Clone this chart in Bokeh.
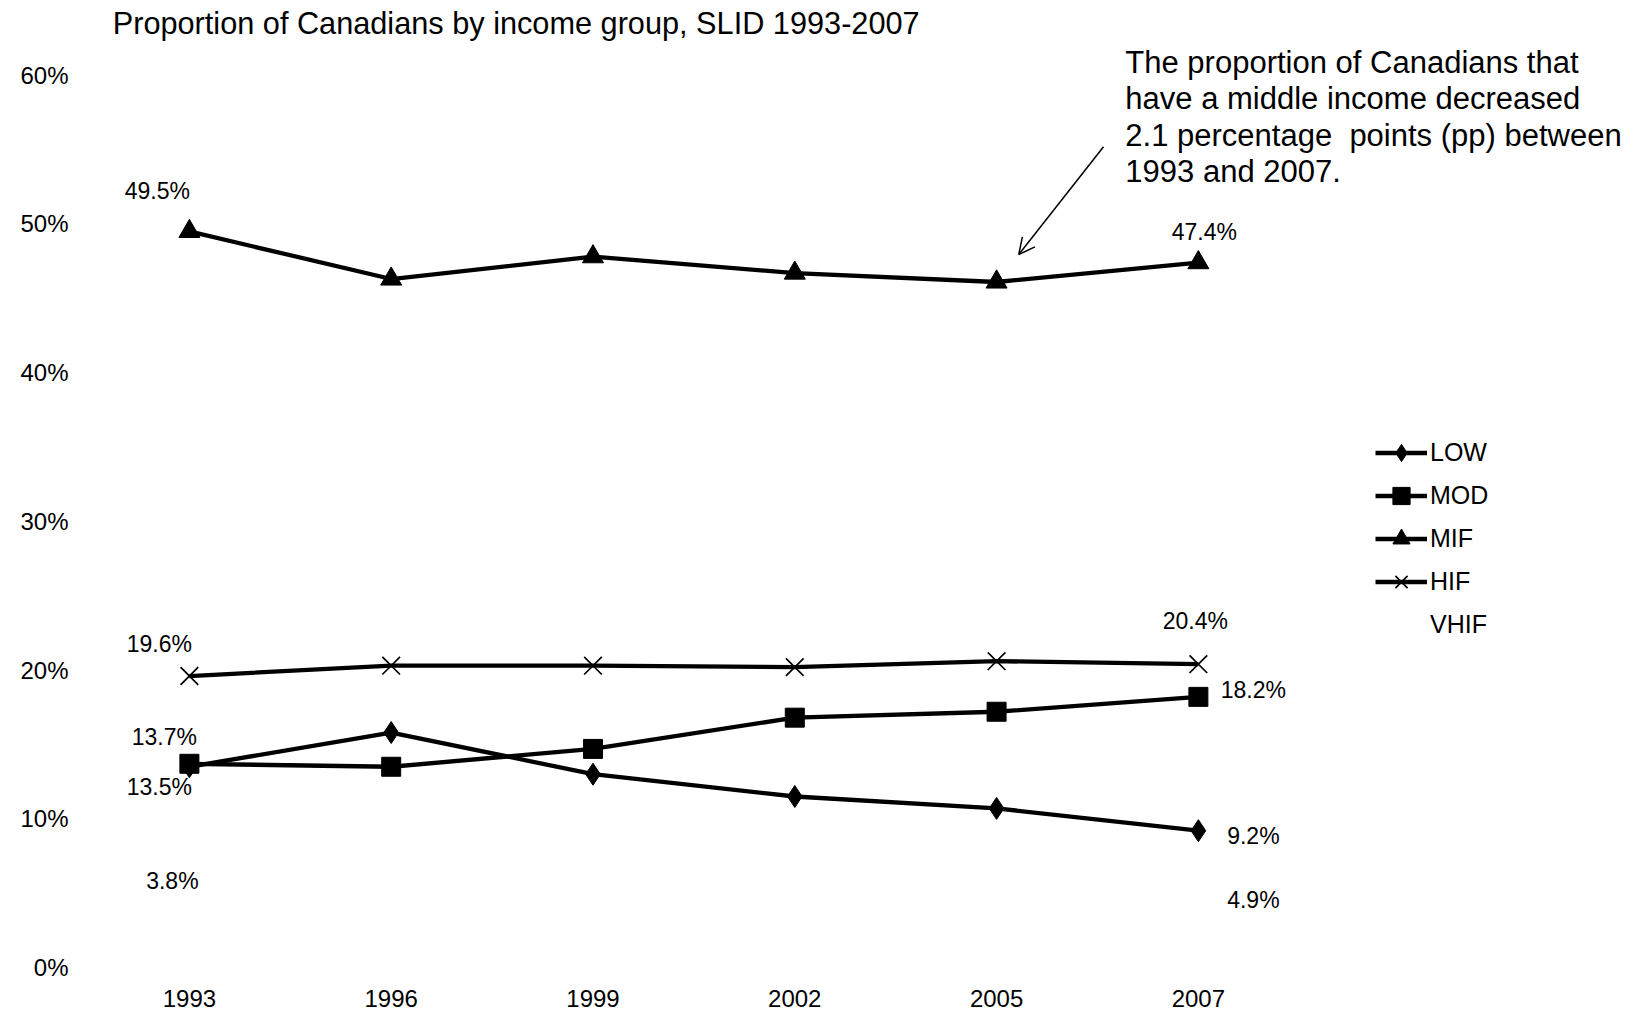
from bokeh.plotting import figure
from bokeh.models import (Range1d, FixedTicker, PrintfTickFormatter, Legend, LegendItem,
                          Label, Arrow, OpenHead, ColumnDataSource)
from bokeh.core.properties import value
from bokeh.embed import file_html
from bokeh.resources import INLINE

# ---- data ----
years = ["1993", "1996", "1999", "2002", "2005", "2007"]
low = [13.5, 15.8, 13.0, 11.5, 10.7, 9.2]
mod = [13.7, 13.5, 14.7, 16.8, 17.2, 18.2]
mif = [49.5, 46.3, 47.8, 46.7, 46.1, 47.4]
hif = [19.6, 20.3, 20.3, 20.2, 20.6, 20.4]
vhif_years = ["1993", "2007"]
vhif = [3.8, 4.9]
y_ticks = [0, 10, 20, 30, 40, 50, 60]

title_text = "Proportion of Canadians by income group, SLID 1993-2007"
note_lines = ["The proportion of Canadians that",
              "have a middle income decreased",
              "2.1 percentage\u00a0 points (pp) between",
              "1993 and 2007."]

# labelled points: (series, year)
label_points = [("MIF", "1993"), ("MIF", "2007"), ("HIF", "1993"), ("HIF", "2007"),
                ("MOD", "1993"), ("MOD", "2007"), ("LOW", "1993"), ("LOW", "2007"),
                ("VHIF", "1993"), ("VHIF", "2007")]

FONT = "Liberation Sans"
xi = {y: i for i, y in enumerate(years)}
series = {
    "LOW": (years, low), "MOD": (years, mod), "MIF": (years, mif),
    "HIF": (years, hif), "VHIF": (vhif_years, vhif),
}

p = figure(width=1639, height=1015, output_backend="svg", toolbar_location=None,
           x_range=Range1d(-0.5, 7.186), y_range=Range1d(-0.874, 65.03),
           min_border_left=88, min_border_right=0, min_border_top=0, min_border_bottom=35)
p.outline_line_color = None
p.xgrid.visible = False
p.ygrid.visible = False
p.background_fill_color = "white"

# axes
p.xaxis.ticker = FixedTicker(ticks=list(range(len(years))))
p.xaxis.major_label_overrides = {i: y for i, y in enumerate(years)}
p.yaxis.ticker = FixedTicker(ticks=y_ticks)
p.yaxis.formatter = PrintfTickFormatter(format="%d%%")
for ax in (p.xaxis[0], p.yaxis[0]):
    ax.axis_line_color = None
    ax.major_tick_line_color = None
    ax.minor_tick_line_color = None
    ax.major_tick_out = 0
    ax.major_tick_in = 0
    ax.major_label_text_font = FONT
    ax.major_label_text_font_size = "24px"
    ax.major_label_text_color = "black"
p.xaxis.major_label_standoff = 9
p.yaxis.major_label_standoff = 20

def xs_of(yrs):
    return [xi[y] for y in yrs]

renderers = {}
lw = 4.3
# LOW
yrs, vals = series["LOW"]
l1 = p.line(xs_of(yrs), vals, line_color="black", line_width=lw)
s1 = p.scatter(xs_of(yrs), vals, marker="diamond", size=22,
               fill_color="black", line_color="black")
renderers["LOW"] = [l1, s1]
# MOD
yrs, vals = series["MOD"]
l2 = p.line(xs_of(yrs), vals, line_color="black", line_width=lw)
s2 = p.scatter(xs_of(yrs), vals, marker="square", size=19, fill_color="black", line_color="black")
renderers["MOD"] = [l2, s2]
# MIF
yrs, vals = series["MIF"]
l3 = p.line(xs_of(yrs), vals, line_color="black", line_width=lw)
s3 = p.scatter(xs_of(yrs), vals, marker="triangle", size=21, fill_color="black", line_color="black")
renderers["MIF"] = [l3, s3]
# HIF
yrs, vals = series["HIF"]
l4 = p.line(xs_of(yrs), vals, line_color="black", line_width=lw)
s4 = p.scatter(xs_of(yrs), vals, marker="x", size=25, line_color="black", line_width=1.7)
renderers["HIF"] = [l4, s4]
# VHIF (no visible line in the source)
yrs, vals = series["VHIF"]
l5 = p.line(xs_of(yrs), vals, line_color="black", line_alpha=0, line_width=lw)
renderers["VHIF"] = [l5]

# data labels
offsets = {
    ("MIF", "1993"): (-32, -40), ("MIF", "2007"): (6, -31),
    ("HIF", "1993"): (-30, -32), ("HIF", "2007"): (-3, -43),
    ("MOD", "1993"): (-25, -27), ("MOD", "2007"): (55, -7),
    ("LOW", "1993"): (-30, 20), ("LOW", "2007"): (55, 5),
    ("VHIF", "1993"): (-17, -30), ("VHIF", "2007"): (55, 5),
}
lx, ly, lt, ox, oy = [], [], [], [], []
for s, y in label_points:
    yrs, vals = series[s]
    v = vals[yrs.index(y)]
    lx.append(xi[y]); ly.append(v); lt.append(f"{v:.1f}%")
    dx, dy = offsets[(s, y)]
    ox.append(dx); oy.append(dy)
src = ColumnDataSource(dict(x=lx, y=ly, text=lt, ox=ox, oy=oy))
p.text(x="x", y="y", text="text", x_offset="ox", y_offset="oy", source=src,
       text_align="center", text_baseline="middle", text_font=value(FONT),
       text_font_size="23px", text_color="black")

# legend
items = [LegendItem(label=k, renderers=renderers[k]) for k in ["LOW", "MOD", "MIF", "HIF", "VHIF"]]
legend = Legend(items=items, location=(1287, 334), orientation="vertical",
                glyph_width=52, glyph_height=43, label_height=43, spacing=0,
                label_standoff=3, padding=0, margin=0,
                border_line_color=None, background_fill_alpha=0,
                label_text_font=FONT, label_text_font_size="25px", label_text_color="black")
p.add_layout(legend)

# title
p.add_layout(Label(x=-0.38, y=63.48, text=title_text, text_font=FONT, text_font_size="30.7px",
                   text_baseline="middle", text_color="black"))

# annotation
note_y = [60.86, 58.44, 55.95, 53.53]
for t, yy in zip(note_lines, note_y):
    p.add_layout(Label(x=4.638, y=yy, text=t, text_font=FONT, text_font_size="31px",
                       text_baseline="middle", text_color="black"))
p.add_layout(Arrow(end=OpenHead(size=16, line_width=1.5, line_color="black"),
                   x_start=4.53, y_start=55.2, x_end=4.11, y_end=47.95,
                   line_width=1.5, line_color="black"))

open("out.html", "w").write(file_html(p, INLINE))
